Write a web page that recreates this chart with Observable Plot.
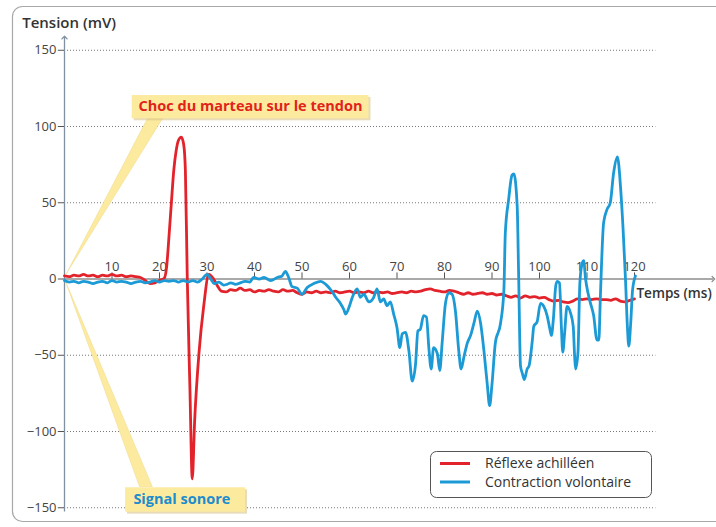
<!DOCTYPE html>
<html><head><meta charset="utf-8">
<script src="https://cdn.jsdelivr.net/npm/d3@7"></script>
<script src="https://cdn.jsdelivr.net/npm/@observablehq/plot@0.6"></script>
<style>body{margin:0;background:#fff}svg{display:block}</style>
</head><body><div id="chart"></div>
<script>
// ---- data ----
const seriesNames = ["Réflexe achilléen", "Contraction volontaire"];
const seriesColors = ["#e2232b", "#1c9ad6"];

const reflexeT = [0,1,2,3,4,5,6,7,8,9,10,11,12,13,14,15,16,17,18,19,20,
  21,21.5,22,22.5,23,23.5,24,24.6,25.1,25.45,25.85,26.4,26.9,27.4,28.3,29.3,30.4,31.4,32.3,
  33,34,35,36,37,38,39,40,41,42,43,44,45,46,47,48,49,50,51,52,53,54,55,56,57,58,59,60,
  61,62,63,64,65,66,67,68,69,70,71,72,73,74,75,76,77,78,79,80,81,82,83,84,85,86,87,88,89,90,
  91,92,93,94,95,96,97,98,99,100,101,102,103,104,105,106,107,108,109,110,111,112,113,114,115,116,117,118,119,120];
const reflexeV = [2,1.5,2.5,2,3,2,2.5,1.5,2.5,2,3,2,2.5,1.5,2,1.5,1,-1,-3,-2.5,-1,
  0.5,8,28,50,71,84,91,93,88,71,0,-71,-131,-93,-49,-18,3,0,-5,
  -8,-8.5,-7,-7.5,-6,-7.5,-7,-8.5,-7.5,-8,-7,-8,-8.5,-7,-8,-7.5,-9,-10,-8.5,-9,-8,-9,-8.5,-9,-8,-9,-8.5,-8,
  -9,-8.5,-9,-8,-9,-8.5,-9,-8.5,-9.5,-9,-8.5,-9,-8,-8.5,-8,-7,-6.5,-7.5,-8,-8.5,-7.5,-8,-9,-10,-9,-10,-9.5,-9,-10,-9.5,
  -10.5,-10,-11,-12,-11,-12.5,-11,-12,-11.5,-12.5,-12,-13.5,-14.5,-14,-15,-15.5,-14.5,-13,-13.5,-13,-13.5,-13,-13.5,-13.5,-14,-13,-14.5,-15,-14,-13];

const contractionT = [0,1,2,3,4,5,6,7,8,9,10,11,12,13,14,15,16,17,18,19,20,21,22,23,24,25,26,27,28,29,30,
  30.8,31.5,32.5,33.5,34.2,35,36,37,38,39,39.8,41,42,43.4,44.8,45.8,46.5,47.2,47.9,49,50,51.1,52.5,53.9,55,
  56.7,57.1,58.1,58.8,59.2,59.9,60.6,61.6,62.3,63,64.1,65.1,65.8,66.5,67.2,67.9,68.6,69.3,70,70.6,71.1,71.8,
  72.5,73.2,73.9,74.4,74.9,75.6,76.2,76.7,77.2,77.7,78.5,79,79.5,80.2,80.9,81.6,82.3,83,83.5,84.1,84.8,85.5,
  86.2,86.9,87.6,88.3,89,89.5,90,90.7,91.8,92.5,92.8,93.5,94.2,94.6,95.3,95.6,96,96.4,96.8,97.4,97.8,98.5,
  98.8,99.5,100.2,100.9,101.6,102.2,102.5,102.9,103.4,103.7,104.2,104.6,104.9,105.3,105.8,106.5,107.1,107.4,
  107.6,108.1,108.5,109,109.3,109.7,110.2,110.7,111.4,112.1,112.5,112.8,113.5,114.2,114.9,115.6,116.4,117.1,
  117.6,118.1,118.5,118.8,119.2,119.6,120.2];
const contractionV = [-1,-2,-1.5,-2.5,-1.5,-2,-3,-2,-1.5,-2.5,-1,-2,-1.5,-2,-3,-2,-1.5,-2.5,-2,-1,-2,-1,-1.5,-1,-2,-1,-2,-1,-2,0,3,
  0,-3,-2,-4,-3.5,-2.5,-3.5,-2.5,-1.5,-2,1,0,1,-1,1,2,5,1,-5,-6,-10,-5.5,-3,-1.5,-3.5,
  -10,-12,-16,-20,-23,-18.5,-12,-6.5,-12,-10,-15,-12,-6.5,-15,-13,-17.5,-15,-23,-32,-45,-36,-35,
  -47,-67,-56,-34,-33,-24,-25,-45,-59,-45,-49,-60,-42,-16,-9,-10,-21,-47,-59,-51,-42,-37,
  -29,-21,-29,-47,-69,-83,-69,-42,-29,-7.5,30,52,68,69,48,4,-57,-62,-66,-59,-57,-40,
  -31,-28,-16,-18,-24,-33,-37,-27,-5,-1.5,-2.5,-31,-48,-35,-18,-22,-31,-51,
  -59,-48,-2.5,10.5,12,0,-9,-15.5,-24,-40,-40,-13,37,45.5,50,69.5,80,58.5,
  32.5,0,-31,-44,-29,-7,2];

const xTicks = [10,20,30,40,50,60,70,80,90,100,110,120];
const yTicks = [-150,-100,-50,0,50,100,150];
const yTickLabels = ["−150","−100","−50","0","50","100","150"];
const yTitle = "Tension (mV)";
const xTitle = "Temps (ms)";
const noteTop = "Choc du marteau sur le tendon";
const noteBottom = "Signal sonore";

// ---- tables ----
const reflexe = reflexeT.map((t, i) => ({t, v: reflexeV[i], s: seriesNames[0]}));
const contraction = contractionT.map((t, i) => ({t, v: contractionV[i], s: seriesNames[1]}));

const FONT = "'Open Sans', 'Noto Sans', sans-serif";
const noteFill = "#fcea9f";

const chart = Plot.plot({
  width: 716, height: 527,
  marginLeft: 64, marginRight: 82, marginTop: 49.75, marginBottom: 19.75,
  x: {domain: [0, 120], axis: null},
  y: {domain: [-150, 150], axis: null},
  color: {domain: seriesNames, range: seriesColors},
  style: {fontFamily: FONT, background: "#fff", overflow: "visible"},
  marks: [
    // dotted grid
    Plot.ruleY(yTicks.filter(d => d !== 0), {x1: 0, x2: 124.5, stroke: "#777", strokeDasharray: "1,2", strokeWidth: 1}),
    // callout wedges
    Plot.areaX({length: 2}, {y: [3.2, 105.2], x1: [0.5, 17.6], x2: [0.5, 20.8], fill: noteFill, stroke: "#efd98a", strokeWidth: 0.5}),
    Plot.areaX({length: 2}, {y: [-1.8, -136.5], x1: [0.3, 15.9], x2: [0.3, 18.6], fill: noteFill, stroke: "#efd98a", strokeWidth: 0.5}),
    // note boxes (shadow + box)
    Plot.rect({length: 1}, {x1: [14.25], x2: [64.1], y1: [105.05], y2: [120.3], fill: "#d8c48a", fillOpacity: 0.6, dx: 2, dy: 2}),
    Plot.rect({length: 1}, {x1: [14.25], x2: [64.1], y1: [105.05], y2: [120.3], fill: noteFill}),
    Plot.rect({length: 1}, {x1: [12.84], x2: [38.1], y1: [-152.9], y2: [-136.9], fill: "#d8c48a", fillOpacity: 0.6, dx: 2, dy: 2}),
    Plot.rect({length: 1}, {x1: [12.84], x2: [38.1], y1: [-152.9], y2: [-136.9], fill: noteFill}),
    Plot.text([noteTop], {x: 15.6, y: 112.9, text: d => d, textAnchor: "start", fontSize: 14.5, fontWeight: 700, fill: "#e2231a"}),
    Plot.text([noteBottom], {x: 14.5, y: -144.8, text: d => d, textAnchor: "start", fontSize: 14.5, fontWeight: 700, fill: "#1d8ccd"}),
    // axes lines
    Plot.link({length: 1}, {x1: [0], x2: [136.6], y1: [0], y2: [0], stroke: "#8c8c8c", strokeWidth: 1.3, markerEnd: "arrow"}),
    Plot.link({length: 1}, {x1: [0], x2: [0], y1: [-152.5], y2: [158.3], stroke: "#7f90a0", strokeWidth: 1.3, markerEnd: "arrow"}),
    // y ticks + labels
    Plot.ruleY(yTicks, {x1: -1.3, x2: 0, stroke: "#555", strokeWidth: 1}),
    Plot.text(yTicks, {x: 0, y: d => d, text: (d, i) => yTickLabels[i], dx: -8, textAnchor: "end", fontSize: 13, fill: "#444"}),
    // x ticks + labels
    Plot.ruleX(xTicks, {y1: 0, y2: 4, stroke: "#555", strokeWidth: 1}),
    Plot.text(xTicks, {x: d => d, y: 0, dy: -12, text: d => String(d), fontSize: 13, fill: "#444"}),
    // titles
    Plot.text([yTitle], {x: -8.9, y: 168, text: d => d, textAnchor: "start", fontSize: 15, fontWeight: 600, fill: "#333"}),
    Plot.text([xTitle], {x: 120.4, y: -9.5, text: d => d, textAnchor: "start", fontSize: 13.6, fontWeight: 600, fill: "#333"}),
    // series
    Plot.line(reflexe, {x: "t", y: "v", stroke: "s", strokeWidth: 2.8, curve: "monotone-x"}),
    Plot.line(contraction, {x: "t", y: "v", stroke: "s", strokeWidth: 2.8, curve: "monotone-x"})
  ]
});

document.getElementById("chart").appendChild(chart);

// panel border and legend
const svg = d3.select(chart);
svg.insert("rect", ":first-child")
  .attr("x", 12.5).attr("y", 6.5).attr("width", 760).attr("height", 515).attr("rx", 10)
  .attr("fill", "#fff").attr("stroke", "#a8a8a8").attr("stroke-width", 1.2);

const lg = svg.append("g").attr("font-family", FONT).attr("text-anchor", "start");
lg.append("rect").attr("x", 430.5).attr("y", 451.5).attr("width", 221).attr("height", 46).attr("rx", 6)
  .attr("fill", "#fff").attr("stroke", "#555").attr("stroke-width", 1);
seriesNames.forEach((name, i) => {
  const y = 463.5 + i * 18.5;
  lg.append("line").attr("x1", 440).attr("x2", 470).attr("y1", y).attr("y2", y)
    .attr("stroke", seriesColors[i]).attr("stroke-width", 3);
  lg.append("text").attr("x", 485).attr("y", y).attr("dy", "0.35em")
    .attr("text-anchor", "start").attr("font-size", 14).attr("fill", "#333").text(name);
});
</script>
</body></html>
